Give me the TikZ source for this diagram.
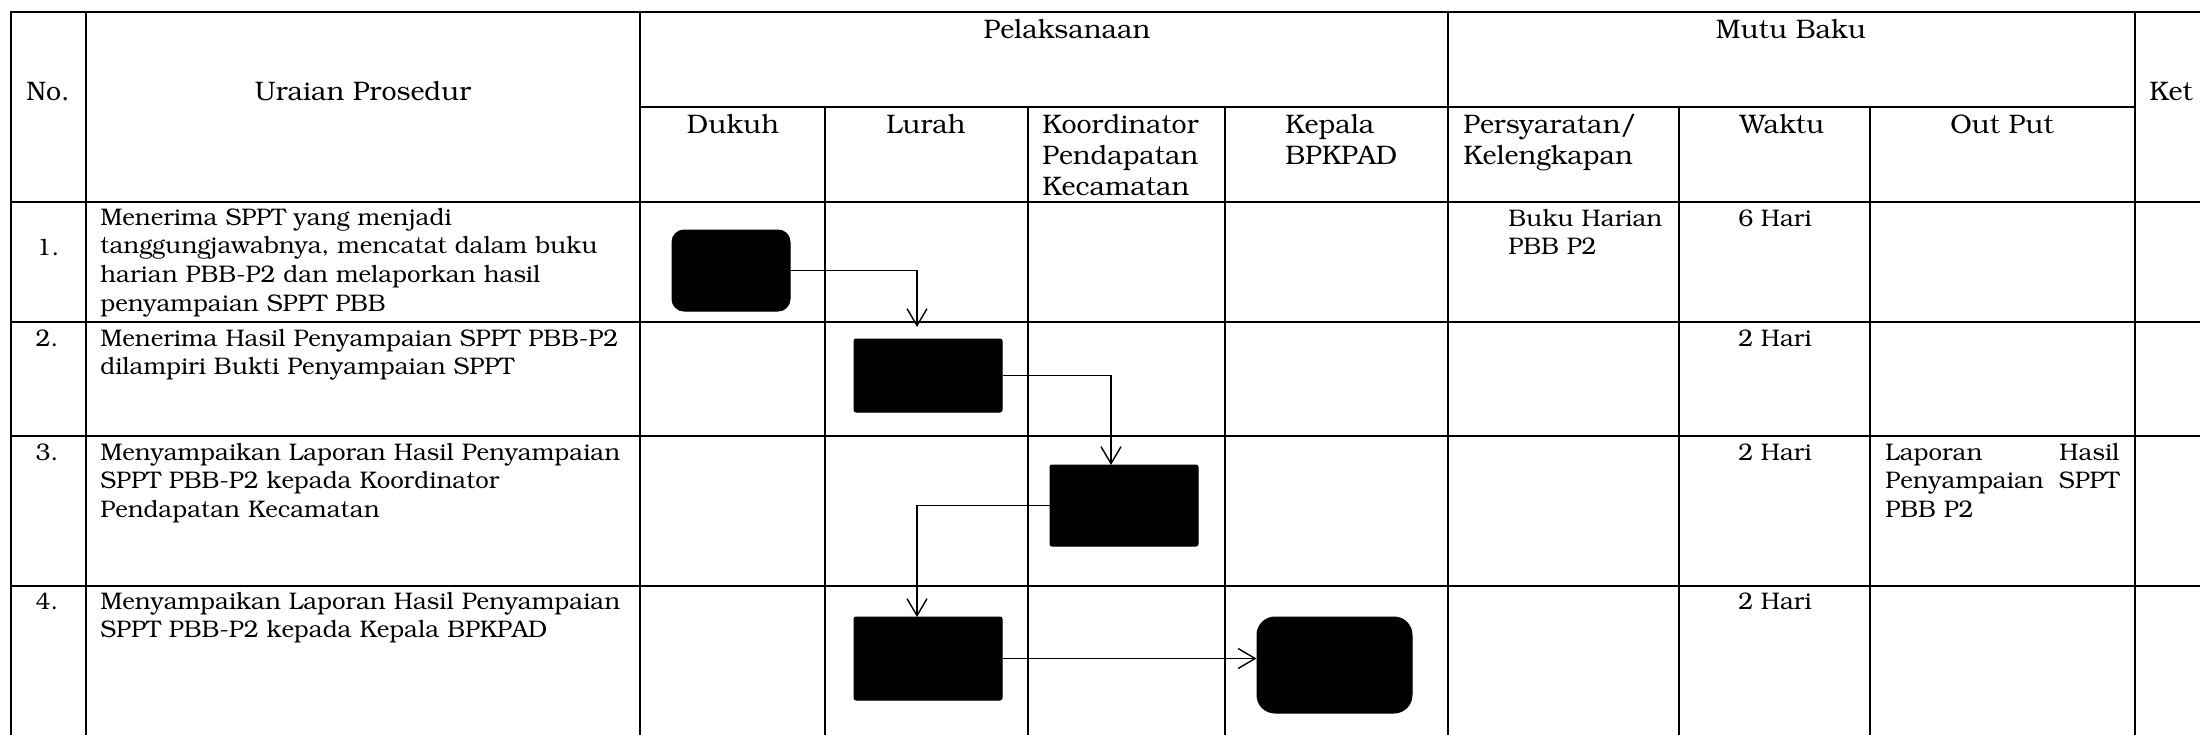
\documentclass[tikz,border=0pt]{standalone}
\usepackage[T1]{fontenc}
\usepackage{bookman}
\usetikzlibrary{arrows.meta}
\begin{document}
\begin{tikzpicture}[x=0.5pt,y=-0.5pt,
  grid/.style={line width=1pt, line cap=rect},
  conn/.style={line width=0.7pt, -{Straight Barb[length=8.5pt,width=10pt,line width=0.7pt]}},
  blk/.style={fill=black, draw=black, line width=0.5pt, inner sep=0pt},
  hd/.style={anchor=base, inner sep=0pt, font=\fontsize{13.4}{15.5}\selectfont},
  hdl/.style={anchor=base west, inner sep=0pt, align=left, text width=120pt, font=\fontsize{13.4}{15.5}\selectfont},
  bd/.style={anchor=base west, inner sep=0pt, align=left, text width=290pt, font=\fontsize{12}{14.35}\selectfont},
  bdl/.style={anchor=base west, inner sep=0pt, align=left, text width=120pt, font=\fontsize{12}{14.35}\selectfont},
  bc/.style={anchor=base, inner sep=0pt, font=\fontsize{12}{14.35}\selectfont}]
\useasboundingbox (0,0) rectangle (2200,734);
% table grid
\draw[grid] (11,12) -- (2200,12);
\draw[grid] (640,107) -- (2135,107);
\foreach \yy in {202,322,436,586} \draw[grid] (11,\yy) -- (2200,\yy);
\foreach \xx in {11,86,640,1448,2135} \draw[grid] (\xx,12) -- (\xx,734);
\foreach \xx in {825,1028,1225,1679,1870} \draw[grid] (\xx,107) -- (\xx,734);
% header
\node[hd] (hno) at (48,100) {No.};
\node[hd] (hur) at (363,100) {Uraian Prosedur};
\node[hd] (hpel) at (1067,38) {Pelaksanaan};
\node[hd] (hmb) at (1791,38) {Mutu Baku};
\node[hdl] (hket) at (2149,100) {Ket};
\node[hd] (hdk) at (733,133) {Dukuh};
\node[hd] (hlr) at (926,133) {Lurah};
\node[hdl] (hko) at (1042,133) {Koordinator\\Pendapatan\\Kecamatan};
\node[hdl] (hkp) at (1285,133) {Kepala\\BPKPAD};
\node[hdl] (hps) at (1463,133) {Persyaratan/\\Kelengkapan};
\node[hd] (hwk) at (1782,133) {Waktu};
\node[hd] (hop) at (2002,133) {Out Put};
% row 1
\node[bc] (n1) at (48,255) {1.};
\node[bd] (u1) at (100,225) {Menerima SPPT yang menjadi\\tanggungjawabnya, mencatat dalam buku\\harian PBB-P2 dan melaporkan hasil\\penyampaian SPPT PBB};
\node[bdl] (p1) at (1508,226) {Buku Harian\\PBB P2};
\node[bc] (w1) at (1775,226) {6 Hari};
% row 2
\node[bc] (n2) at (47,346) {2.};
\node[bd] (u2) at (100,346) {Menerima Hasil Penyampaian SPPT PBB-P2\\dilampiri Bukti Penyampaian SPPT};
\node[bc] (w2) at (1775,346) {2 Hari};
% row 3
\node[bc] (n3) at (47,460) {3.};
\node[bd] (u3) at (100,460) {Menyampaikan Laporan Hasil Penyampaian\\SPPT PBB-P2 kepada Koordinator\\Pendapatan Kecamatan};
\node[bc] (w3) at (1775,460) {2 Hari};
\node[anchor=base west, inner sep=0pt, align=left, text width=117pt, font=\fontsize{12}{14.35}\selectfont] (o3) at (1885,460) {Laporan\hfill Hasil\\Penyampaian\hfill SPPT\\PBB P2};
% row 4
\node[bc] (n4) at (47,609) {4.};
\node[bd] (u4) at (100,609) {Menyampaikan Laporan Hasil Penyampaian\\SPPT PBB-P2 kepada Kepala BPKPAD};
\node[bc] (w4) at (1775,609) {2 Hari};
% flow boxes
\node[blk, rounded corners=6pt, minimum width=59pt, minimum height=40.5pt] (b1) at (731,270.5) {};
\node[blk, rounded corners=1pt, minimum width=74pt, minimum height=36.5pt] (b2) at (928,375.5) {};
\node[blk, rounded corners=1pt, minimum width=74pt, minimum height=40.5pt] (b3) at (1124,505.5) {};
\node[blk, rounded corners=1pt, minimum width=74pt, minimum height=41.5pt] (b4) at (928,658.5) {};
\node[blk, rounded corners=9pt, minimum width=77.5pt, minimum height=48pt] (b5) at (1334.5,665) {};
% connectors
\coordinate (t1) at (917,327);
\coordinate (t2) at (1111,465);
\coordinate (t3) at (917,617);
\draw[conn] (b1.east) -| (t1);
\draw[conn] (b2.east) -| (t2);
\draw[conn] (b3.west) -| (t3);
\draw[conn] (b4.east) -- (b4.east -| b5.west);
\end{tikzpicture}
\end{document}
